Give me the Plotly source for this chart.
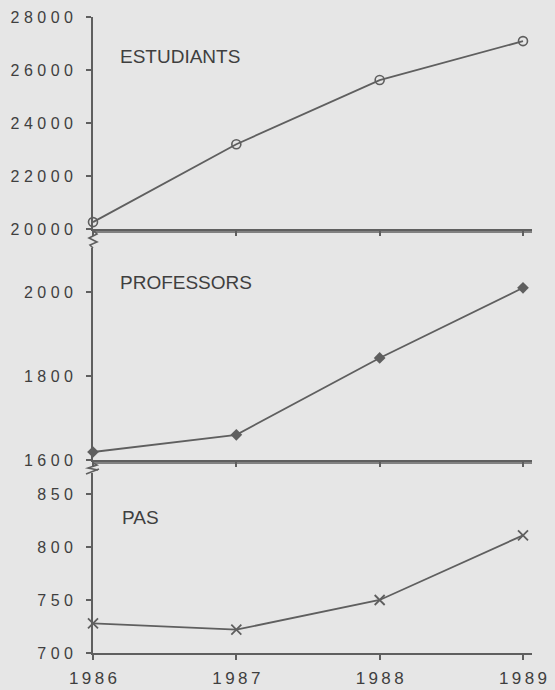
import plotly.graph_objects as go

# ---------------- data ----------------
years = [1986, 1987, 1988, 1989]
estudiants = [20260, 23200, 25620, 27090]
professors = [1619, 1660, 1843, 2010]
pas = [728, 722, 750, 811]

est_ticks = [20000, 22000, 24000, 26000, 28000]
prof_ticks = [1600, 1800, 2000]
pas_ticks = [700, 750, 800, 850]
year_ticks = [1986, 1987, 1988, 1989]

panel_labels = ["ESTUDIANTS", "PROFESSORS", "PAS"]

# ---------------- style ----------------
W, H = 555, 690
L, R = 93, 532
BG = "#e6e6e6"
LINE = "#5f5f5f"
TXT = "#3f3f3f"
FONT = "Liberation Sans"


def spaced(v, sep=" "):
    return sep.join(str(v))


def px(xp):
    return (xp - L) / (R - L)


def py(yp):
    return 1 - yp / H


fig = go.Figure()

series = [
    (estudiants, "y", "x", dict(symbol="circle-open", size=9, color=LINE, line=dict(width=1.6, color=LINE))),
    (professors, "y2", "x2", dict(symbol="diamond", size=9, color=LINE, line=dict(width=0, color=LINE))),
    (pas, "y3", "x3", dict(symbol="x-thin-open", size=10, color=LINE, line=dict(width=1.8, color=LINE))),
]
for vals, ya, xa, mk in series:
    fig.add_trace(go.Scatter(x=years, y=vals, xaxis=xa, yaxis=ya, mode="lines+markers",
                             line=dict(color=LINE, width=1.8), marker=mk, cliponaxis=False,
                             showlegend=False, hoverinfo="skip"))

xrange = [1986, 1986 + 3 * (R - L) / (523 - L)]

common_x = dict(range=xrange, showgrid=False, zeroline=False, showline=True, linecolor=LINE,
                linewidth=1.8, ticks="outside", ticklen=5, tickwidth=1.5, tickcolor=LINE,
                tickvals=year_ticks, automargin=False, fixedrange=True)
common_y = dict(showgrid=False, zeroline=False, showline=True, linecolor=LINE, linewidth=1.8,
                ticks="outside", ticklen=5, tickwidth=1.5, tickcolor=LINE, automargin=False,
                tickfont=dict(family=FONT, size=16, color=TXT), ticklabelstandoff=10,
                fixedrange=True)

dom1 = [py(229), py(17)]
dom2 = [py(460), py(248)]
dom3 = [py(653), py(473)]

fig.update_layout(
    width=W, height=H,
    margin=dict(l=L, r=W - R, t=0, b=0),
    paper_bgcolor=BG, plot_bgcolor=BG,
    xaxis=dict(common_x, anchor="y", showticklabels=False),
    xaxis2=dict(common_x, anchor="y2", showticklabels=False),
    xaxis3=dict(common_x, anchor="y3", showticklabels=True,
                ticktext=[spaced(v, "\u2009") for v in year_ticks],
                tickfont=dict(family=FONT, size=17, color=TXT), ticklabelstandoff=4),
    yaxis=dict(common_y, domain=dom1, range=[20000, 28000], tickvals=est_ticks,
               ticktext=[spaced(v) for v in est_ticks], anchor="x"),
    yaxis2=dict(common_y, domain=dom2, range=[1600, 1600 + 200 * (460 - 248) / 84],
                tickvals=prof_ticks, ticktext=[spaced(v) for v in prof_ticks], anchor="x2"),
    yaxis3=dict(common_y, domain=dom3, range=[700, 700 + 50 * (653 - 473) / 53],
                tickvals=pas_ticks, ticktext=[spaced(v) for v in pas_ticks], anchor="x3"),
)

# panel labels
for lab, (xp, yp) in zip(panel_labels, [(118, 56), (118, 282), (120, 517)]):
    fig.add_annotation(text=lab, x=px(xp), y=py(yp), xref="paper", yref="paper",
                       xanchor="left", yanchor="middle", showarrow=False,
                       font=dict(family=FONT, size=19, color=TXT))

shapes = []
# second line of the doubled baselines
for yp in (232, 463):
    shapes.append(dict(type="line", xref="paper", yref="paper", x0=px(L), x1=px(R),
                       y0=py(yp), y1=py(yp), line=dict(color=LINE, width=1.4)))


def path(points):
    return "M " + " L ".join(f"{px(a):.5f},{py(b):.5f}" for a, b in points)


# axis break zigzags
shapes.append(dict(type="path", xref="paper", yref="paper",
                   path=path([(93, 230), (97, 234), (89, 238), (97, 242), (90, 245), (93, 248)]),
                   line=dict(color=LINE, width=1.6)))
shapes.append(dict(type="path", xref="paper", yref="paper",
                   path=path([(93, 463), (97, 465), (88, 468), (98, 470)]),
                   line=dict(color=LINE, width=1.6)))
shapes.append(dict(type="path", xref="paper", yref="paper",
                   path=path([(86, 474), (99, 469)]),
                   line=dict(color=LINE, width=1.6)))
fig.update_layout(shapes=shapes)

fig.write_html(
    "out.html",
    config={"displayModeBar": False},
    post_script="document.body.style.margin='0';document.body.style.background='%s';"
                "document.body.style.overflow='hidden';" % BG,
)
